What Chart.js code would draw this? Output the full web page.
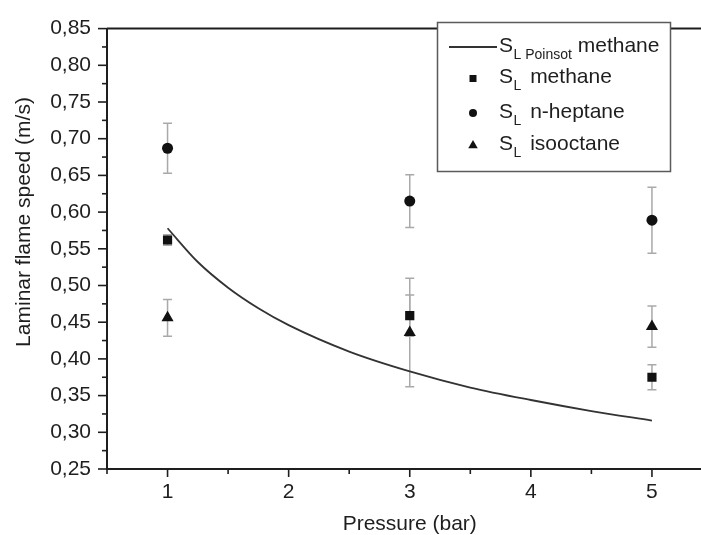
<!DOCTYPE html>
<html><head><meta charset="utf-8">
<script src="https://cdn.jsdelivr.net/npm/chart.js@4/dist/chart.umd.min.js"></script>
<style>
html,body{margin:0;padding:0;background:#fff;overflow:hidden;width:701px;height:535px;}
#wrap{position:relative;width:720px;height:535px;}
canvas{display:block;}
</style></head><body>
<div id="wrap"><canvas id="c" width="720" height="535"></canvas></div>
<script>
// ---- data ----
const pressure = [1, 3, 5];
const methane = [0.562, 0.459, 0.375];
const methaneErr = [0.007, 0.028, 0.017];
const heptane = [0.687, 0.615, 0.589];
const heptaneErr = [0.034, 0.036, 0.045];
const isooctane = [0.456, 0.436, 0.444];
const isooctaneErr = [0.025, 0.074, 0.028];
const poinsotP = [1.0, 1.25, 1.5, 1.75, 2.0, 2.5, 3.0, 3.5, 4.0, 4.5, 5.0];
const poinsotS = [0.578, 0.532, 0.497, 0.469, 0.446, 0.410, 0.383, 0.361, 0.344, 0.329, 0.316];
const xTickLabels = ['1', '2', '3', '4', '5'];
const yTickLabels = ['0,25','0,30','0,35','0,40','0,45','0,50','0,55','0,60','0,65','0,70','0,75','0,80','0,85'];
const xTitle = 'Pressure (bar)';
const yTitle = 'Laminar flame speed (m/s)';
const legendMain = ['methane', 'methane', 'n-heptane', 'isooctane'];

const FONT = "'Liberation Sans', Arial, Helvetica, sans-serif";
const INK = '#1e1e1e';

const xTickVals = xTickLabels.map(Number);
const yTickVals = yTickLabels.map(s => parseFloat(s.replace(',', '.')));

function pts(xs, ys) { return xs.map((x, i) => ({ x: x, y: ys[i] })); }
function markerSet(label, ys, style, r) {
  return {
    label: label, data: pts(pressure, ys), showLine: false,
    pointStyle: style, pointRadius: r, pointHoverRadius: r,
    backgroundColor: '#111', borderColor: '#111', pointBorderWidth: 0
  };
}

const errMap = { 1: methaneErr, 2: heptaneErr, 3: isooctaneErr };

function drawMarker(ctx, style, cx, cy, r) {
  ctx.beginPath();
  if (style === 'rect') {
    ctx.rect(cx - r, cy - r, 2 * r, 2 * r);
  } else if (style === 'circle') {
    ctx.arc(cx, cy, r, 0, Math.PI * 2);
  } else {
    ctx.moveTo(cx, cy - r);
    ctx.lineTo(cx + r * 0.866, cy + r * 0.5);
    ctx.lineTo(cx - r * 0.866, cy + r * 0.5);
    ctx.closePath();
  }
  ctx.fill();
}

const decor = {
  id: 'decor',
  beforeDatasetsDraw(chart) {
    const { ctx, scales: { x, y } } = chart;
    ctx.save();
    ctx.strokeStyle = '#a9a9a9';
    ctx.lineWidth = 1.5;
    for (const k of Object.keys(errMap)) {
      const errs = errMap[k];
      chart.data.datasets[k].data.forEach((p, i) => {
        const px = x.getPixelForValue(p.x);
        const t = y.getPixelForValue(p.y + errs[i]);
        const b = y.getPixelForValue(p.y - errs[i]);
        ctx.beginPath();
        ctx.moveTo(px, t); ctx.lineTo(px, b);
        ctx.moveTo(px - 4.5, t); ctx.lineTo(px + 4.5, t);
        ctx.moveTo(px - 4.5, b); ctx.lineTo(px + 4.5, b);
        ctx.stroke();
      });
    }
    ctx.restore();
  },
  afterDraw(chart) {
    const { ctx, chartArea: a, scales: { x, y } } = chart;
    ctx.save();
    ctx.strokeStyle = INK;
    ctx.lineWidth = 2;
    // frame top / right
    ctx.beginPath();
    ctx.moveTo(a.left, a.top); ctx.lineTo(a.right, a.top); ctx.lineTo(a.right, a.bottom);
    ctx.stroke();
    // y ticks (major + minor, outward)
    ctx.lineWidth = 1.6;
    const yStep = y.ticks.length > 1 ? (y.ticks[1].value - y.ticks[0].value) : 0.05;
    y.ticks.forEach((t, i) => {
      const py = y.getPixelForValue(t.value);
      ctx.beginPath(); ctx.moveTo(a.left - 9, py); ctx.lineTo(a.left, py); ctx.stroke();
      if (i < y.ticks.length - 1) {
        const pm = y.getPixelForValue(t.value + yStep / 2);
        ctx.beginPath(); ctx.moveTo(a.left - 5, pm); ctx.lineTo(a.left, pm); ctx.stroke();
      }
    });
    // x ticks (major + minor, outward)
    const xs = x.ticks.map(t => t.value);
    xs.forEach(v => {
      const px = x.getPixelForValue(v);
      ctx.beginPath(); ctx.moveTo(px, a.bottom); ctx.lineTo(px, a.bottom + 8); ctx.stroke();
    });
    const minors = [xs[0] - 0.5].concat(xs.map(v => v + 0.5));
    minors.forEach(v => {
      const px = x.getPixelForValue(v);
      ctx.beginPath(); ctx.moveTo(px, a.bottom); ctx.lineTo(px, a.bottom + 5); ctx.stroke();
    });
    // y title
    ctx.fillStyle = INK;
    ctx.font = '21px ' + FONT;
    ctx.textAlign = 'center';
    ctx.textBaseline = 'middle';
    ctx.save();
    ctx.translate(24, 222);
    ctx.rotate(-Math.PI / 2);
    ctx.fillText(yTitle, 0, 0);
    ctx.restore();
    // legend
    const bx = 437.5, by = 22.5, bw = 233, bh = 149;
    ctx.fillStyle = '#fff';
    ctx.fillRect(bx, by, bw, bh);
    ctx.strokeStyle = '#5a5a5a';
    ctx.lineWidth = 1.5;
    ctx.strokeRect(bx, by, bw, bh);
    const baselines = [52, 83, 118, 150];
    const markerY = [47, 78.5, 113, 145.5];
    const styles = [null, 'rect', 'circle', 'triangle'];
    const radii = [0, 3.5, 4, 5.5];
    ctx.textAlign = 'left';
    ctx.textBaseline = 'alphabetic';
    for (let i = 0; i < 4; i++) {
      ctx.fillStyle = '#111';
      if (i === 0) {
        ctx.strokeStyle = '#333'; ctx.lineWidth = 1.8;
        ctx.beginPath(); ctx.moveTo(449, markerY[0]); ctx.lineTo(497, markerY[0]); ctx.stroke();
      } else {
        drawMarker(ctx, styles[i], 473, markerY[i], radii[i]);
      }
      ctx.fillStyle = INK;
      let tx = 499;
      const bl = baselines[i];
      ctx.font = '21px ' + FONT;
      ctx.fillText('S', tx, bl);
      tx += ctx.measureText('S').width + 0.5;
      ctx.font = '14px ' + FONT;
      ctx.fillText('L', tx, bl + 7);
      tx += ctx.measureText('L').width;
      if (i === 0) {
        tx += ctx.measureText(' ').width;
        ctx.fillText('Poinsot', tx, bl + 7);
        tx += ctx.measureText('Poinsot').width;
      }
      ctx.font = '21px ' + FONT;
      tx += ctx.measureText(' ').width + (i === 0 ? 0 : 3);
      ctx.fillText(legendMain[i], tx, bl);
    }
    ctx.restore();
  }
};

new Chart(document.getElementById('c'), {
  type: 'scatter',
  data: {
    datasets: [
      {
        label: 'SL Poinsot methane', data: pts(poinsotP, poinsotS), showLine: true,
        borderColor: '#333', borderWidth: 1.8, pointRadius: 0, pointHoverRadius: 0,
        cubicInterpolationMode: 'monotone', fill: false
      },
      markerSet('SL methane', methane, 'rect', 6.5),
      markerSet('SL n-heptane', heptane, 'circle', 5.5),
      markerSet('SL isooctane', isooctane, 'triangle', 7)
    ]
  },
  plugins: [decor],
  options: {
    responsive: false,
    animation: false,
    events: [],
    layout: { padding: { top: 18, right: 7.5, bottom: 0, left: 0 } },
    plugins: { legend: { display: false }, tooltip: { enabled: false } },
    scales: {
      x: {
        type: 'linear', min: 0.5, max: 5.5,
        afterBuildTicks: s => { s.ticks = xTickVals.map(v => ({ value: v })); },
        afterFit: s => { s.height = 66; },
        grid: { display: true, drawOnChartArea: false, drawTicks: false },
        border: { display: true, color: INK, width: 2 },
        ticks: {
          autoSkip: false, maxRotation: 0, padding: 11, color: INK,
          font: { family: FONT, size: 21 },
          callback: (v, i) => xTickLabels[i]
        },
        title: {
          display: true, text: xTitle, color: INK,
          font: { family: FONT, size: 21, lineHeight: 1 },
          padding: { top: 0, bottom: 0 }
        }
      },
      y: {
        type: 'linear', min: 0.25, max: 0.85,
        afterBuildTicks: s => { s.ticks = yTickVals.map(v => ({ value: v })); },
        afterFit: s => { s.width = 107; },
        grid: { display: true, drawOnChartArea: false, drawTicks: false },
        border: { display: true, color: INK, width: 2 },
        ticks: {
          autoSkip: false, padding: 16, color: INK,
          font: { family: FONT, size: 21 },
          callback: (v, i) => yTickLabels[i]
        }
      }
    }
  }
});
</script>
</body></html>
